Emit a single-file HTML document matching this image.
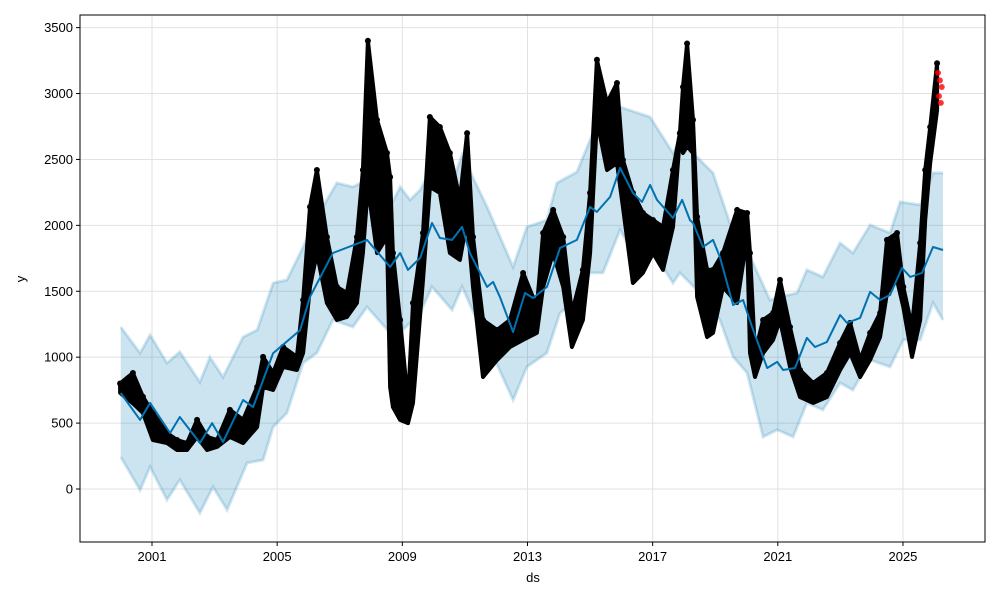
<!DOCTYPE html>
<html><head><meta charset="utf-8"><style>
body{margin:0;background:#fff}
svg text{font-family:"Liberation Sans",sans-serif;font-size:13px;fill:#000}
</style></head><body>
<svg id="chart" width="1000" height="600" viewBox="0 0 1000 600" xmlns="http://www.w3.org/2000/svg">
<rect x="0" y="0" width="1000" height="600" fill="#fff"/>
<g id="grid"></g>
<g id="band"></g>
<g id="actual"></g>
<g id="yhat"></g>
<g id="axes"></g>
<text x="533" y="582" text-anchor="middle">ds</text>
<text x="0" y="0" transform="translate(25,279) rotate(-90)" text-anchor="middle">y</text>
</svg>
<script>
const yTicks=[0,500,1000,1500,2000,2500,3000,3500];
const xTicks=[2001,2005,2009,2013,2017,2021,2025];
const yhatYears=[2000.0,2000.62,2000.94,2001.58,2001.89,2002.53,2002.92,2003.27,2003.91,2004.23,2004.87,2005.73,2006.05,2006.78,2007.87,2008.61,2008.93,2009.18,2009.57,2009.95,2010.20,2010.59,2010.91,2011.16,2011.71,2011.90,2012.12,2012.54,2012.92,2013.18,2013.62,2014.04,2014.58,2015.00,2015.22,2015.64,2015.96,2016.37,2016.66,2016.92,2017.14,2017.65,2017.94,2018.19,2018.29,2018.61,2018.93,2019.15,2019.57,2019.89,2020.18,2020.66,2020.98,2021.17,2021.55,2021.93,2022.19,2022.57,2022.99,2023.21,2023.63,2023.95,2024.27,2024.59,2024.97,2025.23,2025.61,2025.96,2026.28];
const yhatVals=[728,524,653,425,546,349,500,357,675,622,1030,1205,1457,1790,1890,1685,1790,1662,1753,2018,1904,1890,1988,1790,1533,1571,1457,1191,1487,1449,1533,1828,1890,2140,2102,2216,2436,2246,2178,2307,2193,2056,2193,2041,2018,1836,1890,1760,1396,1434,1229,918,964,903,918,1146,1077,1115,1320,1260,1298,1495,1434,1472,1677,1609,1639,1836,1813];
const upperYears=[2000.0,2000.62,2000.94,2001.48,2001.89,2002.53,2002.85,2003.27,2003.91,2004.36,2004.87,2005.31,2005.83,2006.27,2006.91,2007.42,2007.87,2008.61,2008.93,2009.25,2009.57,2009.95,2010.59,2010.91,2011.71,2012.54,2012.98,2013.62,2013.94,2014.58,2015.09,2015.96,2016.92,2017.65,2017.87,2018.93,2019.47,2020.02,2020.75,2021.07,2021.61,2021.93,2022.44,2022.99,2023.40,2023.95,2024.59,2024.91,2025.55,2025.96,2026.28];
const upperVals=[1229,1032,1168,956,1040,812,1000,850,1153,1206,1563,1586,1836,2064,2322,2292,2345,2140,2292,2193,2270,2444,2322,2534,2140,1685,1988,2041,2322,2405,2701,2898,2822,2549,2648,2398,2018,1813,1434,1457,1487,1662,1609,1866,1790,2003,1943,2178,2155,2398,2398];
const lowerYears=[2000.0,2000.62,2000.94,2001.48,2001.89,2002.53,2002.95,2003.40,2004.04,2004.55,2004.87,2005.31,2005.83,2006.27,2006.78,2007.42,2007.87,2008.61,2008.93,2009.02,2009.57,2009.95,2010.59,2010.91,2011.71,2012.54,2012.98,2013.62,2014.04,2014.58,2015.00,2015.41,2015.96,2016.50,2016.92,2017.65,2017.87,2018.51,2019.15,2019.57,2020.02,2020.53,2020.98,2021.49,2021.93,2022.44,2022.99,2023.40,2023.95,2024.59,2025.01,2025.55,2025.96,2026.28];
const lowerVals=[243,-8,167,-83,68,-182,15,-159,197,220,470,576,956,1032,1282,1229,1381,1184,1335,1206,1335,1533,1358,1533,1108,675,926,1032,1335,1434,1639,1639,1965,1738,1836,1563,1639,1487,1282,1002,880,395,448,395,653,600,804,751,979,926,1131,1131,1411,1282];
const actYears=[1999.98,2000.39,2000.71,2001.03,2001.48,2001.80,2002.12,2002.44,2002.76,2003.08,2003.49,2003.91,2004.36,2004.55,2004.87,2005.19,2005.63,2005.83,2006.05,2006.27,2006.59,2006.91,2007.23,2007.55,2007.74,2007.90,2008.19,2008.51,2008.61,2008.70,2008.93,2009.18,2009.34,2009.66,2009.88,2010.20,2010.52,2010.84,2011.07,2011.26,2011.58,2012.03,2012.44,2012.86,2013.30,2013.50,2013.82,2014.14,2014.42,2014.77,2015.00,2015.22,2015.54,2015.86,2016.05,2016.37,2016.69,2017.01,2017.33,2017.65,2017.87,2017.97,2018.10,2018.29,2018.42,2018.74,2018.93,2019.25,2019.70,2020.02,2020.11,2020.27,2020.53,2020.85,2021.07,2021.39,2021.71,2022.13,2022.57,2022.99,2023.31,2023.63,2023.95,2024.27,2024.49,2024.81,2025.01,2025.29,2025.55,2025.71,2025.87,2026.09];
const actHi=[800,880,700,577,425,372,349,524,395,372,600,524,774,1002,880,1077,1002,1434,2140,2420,1912,1533,1487,1912,2420,3400,2800,2549,2367,1790,1282,653,1411,1942,2822,2746,2549,2193,2700,1912,1282,1206,1282,1639,1381,1942,2117,1912,1335,1662,2246,3256,2929,3080,2496,2246,2094,2041,1988,2420,2700,3050,3380,2800,2064,1662,1662,1790,2117,2094,1790,1032,1282,1335,1586,1229,903,804,880,1108,1260,979,1184,1335,1890,1942,1533,1229,1866,2420,2746,3230];
const actLo=[730,650,577,372,349,296,296,395,296,319,395,349,470,774,751,926,903,1032,1533,1790,1411,1282,1305,1411,1790,2292,1790,1912,774,622,524,500,653,1586,2292,2246,1790,1738,2041,1533,850,979,1077,1131,1184,1533,1790,1533,1077,1282,1790,2800,2420,2473,2140,1563,1639,1790,1662,1988,2670,2549,2600,2549,1457,1153,1184,1533,1411,1912,1032,850,1032,1131,1282,926,698,653,698,903,1032,850,979,1153,1487,1586,1381,1002,1282,2041,2473,2875];
const forecastYears=[2026.12,2026.15,2026.18,2026.21,2026.24];
const forecastVals=[3157,2980,3100,2929,3050];

const NS='http://www.w3.org/2000/svg';
const L=80,R=985,T=15,B=542;
function xs(yr){return 152+(yr-2001)*31.29;}
function ys(v){return 489-v*0.13182;}
function mk(tag,attrs,parent){const e=document.createElementNS(NS,tag);for(const k in attrs)e.setAttribute(k,attrs[k]);parent.appendChild(e);return e;}
const grid=document.getElementById('grid'),axes=document.getElementById('axes');
yTicks.forEach(v=>{
 const g=mk('line',{x1:L,x2:R,y1:ys(v),y2:ys(v),stroke:'#e2e2e2','stroke-width':1},grid);
 
 
 const tk=mk('line',{x1:L-4,x2:L,y1:ys(v),y2:ys(v),stroke:'#000'},axes);
 
 
 const t=mk('text',{x:L-7,y:ys(v)+4.5,'text-anchor':'end'},axes);t.textContent=v;
 
 
});
xTicks.forEach(yr=>{
 const g=mk('line',{x1:xs(yr),x2:xs(yr),y1:T,y2:B,stroke:'#e2e2e2','stroke-width':1},grid);
 
 
 const tk=mk('line',{x1:xs(yr),x2:xs(yr),y1:B,y2:B+4,stroke:'#000'},axes);
 
 
 const t=mk('text',{x:xs(yr),y:B+19,'text-anchor':'middle'},axes);t.textContent=yr;
 
 
});
const frame=mk('rect',{x:L,y:T,width:R-L,height:B-T,fill:'none',stroke:'#000','stroke-width':1},axes);



const band=document.getElementById('band');
const up=upperYears.map((y,i)=>xs(y).toFixed(1)+','+ys(upperVals[i]).toFixed(1));
const lo=lowerYears.map((y,i)=>xs(y).toFixed(1)+','+ys(lowerVals[i]).toFixed(1));
const poly=mk('polygon',{points:up.concat(lo.slice().reverse()).join(' '),fill:'rgba(0,114,178,0.2)'},band);


const ue=mk('polyline',{points:up.join(' '),fill:'none',stroke:'rgba(0,114,178,0.18)','stroke-width':3},band);


const le=mk('polyline',{points:lo.join(' '),fill:'none',stroke:'rgba(0,114,178,0.18)','stroke-width':3},band);



const act=document.getElementById('actual');
const ah=actYears.map((y,i)=>xs(y).toFixed(1)+','+ys(actHi[i]).toFixed(1));
const al=actYears.map((y,i)=>xs(y).toFixed(1)+','+ys(actLo[i]).toFixed(1));
const ap=mk('polygon',{points:ah.concat(al.slice().reverse()).join(' '),fill:'#000',stroke:'#000','stroke-width':4,'stroke-linejoin':'round'},act);


actYears.forEach((y,i)=>{
 const c=mk('circle',{cx:xs(y),cy:ys(actHi[i]),r:3,fill:'#000'},act);
 
 
});
forecastYears.forEach((y,i)=>{
 const c=mk('circle',{cx:xs(y),cy:ys(forecastVals[i]),r:3,fill:'rgba(255,0,0,0.8)'},act);
 
 
});

const yh=document.getElementById('yhat');
const line=mk('polyline',{points:yhatYears.map((y,i)=>xs(y).toFixed(1)+','+ys(yhatVals[i]).toFixed(1)).join(' '),fill:'none',stroke:'#0072B2','stroke-width':2,'stroke-linejoin':'round'},yh);


</script>
</body></html>
